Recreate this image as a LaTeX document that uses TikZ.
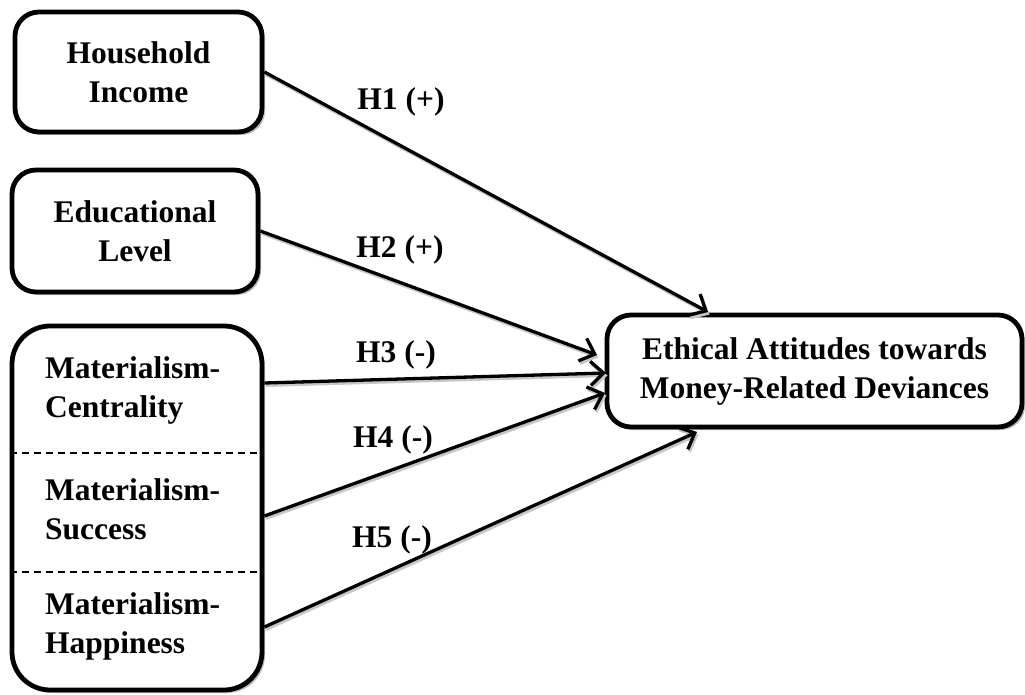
\documentclass[tikz,border=0pt]{standalone}
\usepackage{fontspec}
\setmainfont{Liberation Serif}
\usetikzlibrary{arrows.meta,shadows}
\begin{document}
\begin{tikzpicture}[x=1pt,y=-1pt,
  box/.style={draw,line width=4.8pt,rounded corners=24pt,fill=white,
    drop shadow={shadow xshift=3pt,shadow yshift=-3pt,fill=black!45,opacity=.6},
    font=\fontsize{31.5}{39}\selectfont\bfseries,align=center,inner sep=0pt},
  lbl/.style={font=\fontsize{31.5}{39}\selectfont\bfseries,inner sep=0pt},
  hyp/.style={line width=3.3pt,
    preaction={draw=black!22,line width=3pt,transform canvas={shift={(1.5pt,-2.5pt)}}},
    -{Straight Barb[length=13pt,width=24pt,line width=3.3pt]}}
]
\useasboundingbox (0,0) rectangle (1025,695);
\fill[white] (0,0) rectangle (1025,695);

\node[box,minimum width=247pt,minimum height=120pt] (hi) at (138.5,72) {Household\\Income};
\node[box,minimum width=246pt,minimum height=122pt] (ed) at (135,231) {Educational\\Level};
\node[box,rounded corners=38pt,minimum width=250pt,minimum height=364pt] (mat) at (137,508) {};
\node[box,minimum width=415pt,minimum height=112pt] (eth) at (814.5,371) {Ethical Attitudes towards\\Money-Related Deviances};

\node[lbl,anchor=west,align=left] (mc) at (45,390) {Materialism-\\Centrality};
\node[lbl,anchor=west,align=left] (ms) at (45,509) {Materialism-\\Success};
\node[lbl,anchor=west,align=left] (mh) at (45,626) {Materialism-\\Happiness};

\draw[line width=1.3pt,dash pattern=on 7pt off 5pt] (mat.west |- 0,453) coordinate (d1a) -- (mat.east |- 0,453) coordinate (d1b);
\draw[line width=1.3pt,dash pattern=on 7pt off 5pt] (mat.west |- 0,572) coordinate (d2a) -- (mat.east |- 0,572) coordinate (d2b);

\coordinate (s3) at (mat.east |- 0,383);
\coordinate (s4) at (mat.east |- 0,516);
\coordinate (s5) at (mat.east |- 0,627);
\coordinate (e1) at (708,312);
\coordinate (e2) at (597,355);
\coordinate (e3) at (606,373);
\coordinate (e4) at (605,393);
\coordinate (e5) at (697,432);

\draw[hyp] (hi.east) -- (e1);
\draw[hyp] (ed.east) -- (e2);
\draw[hyp] (s3) -- (e3);
\draw[hyp] (s4) -- (e4);
\draw[hyp] (s5) -- (e5);

\node[lbl] (l1) at (401,102) {H1 (+)};
\node[lbl] (l2) at (400,250) {H2 (+)};
\node[lbl] (l3) at (396,355) {H3 (-)};
\node[lbl] (l4) at (393,440) {H4 (-)};
\node[lbl] (l5) at (392,540) {H5 (-)};
\end{tikzpicture}
\end{document}
